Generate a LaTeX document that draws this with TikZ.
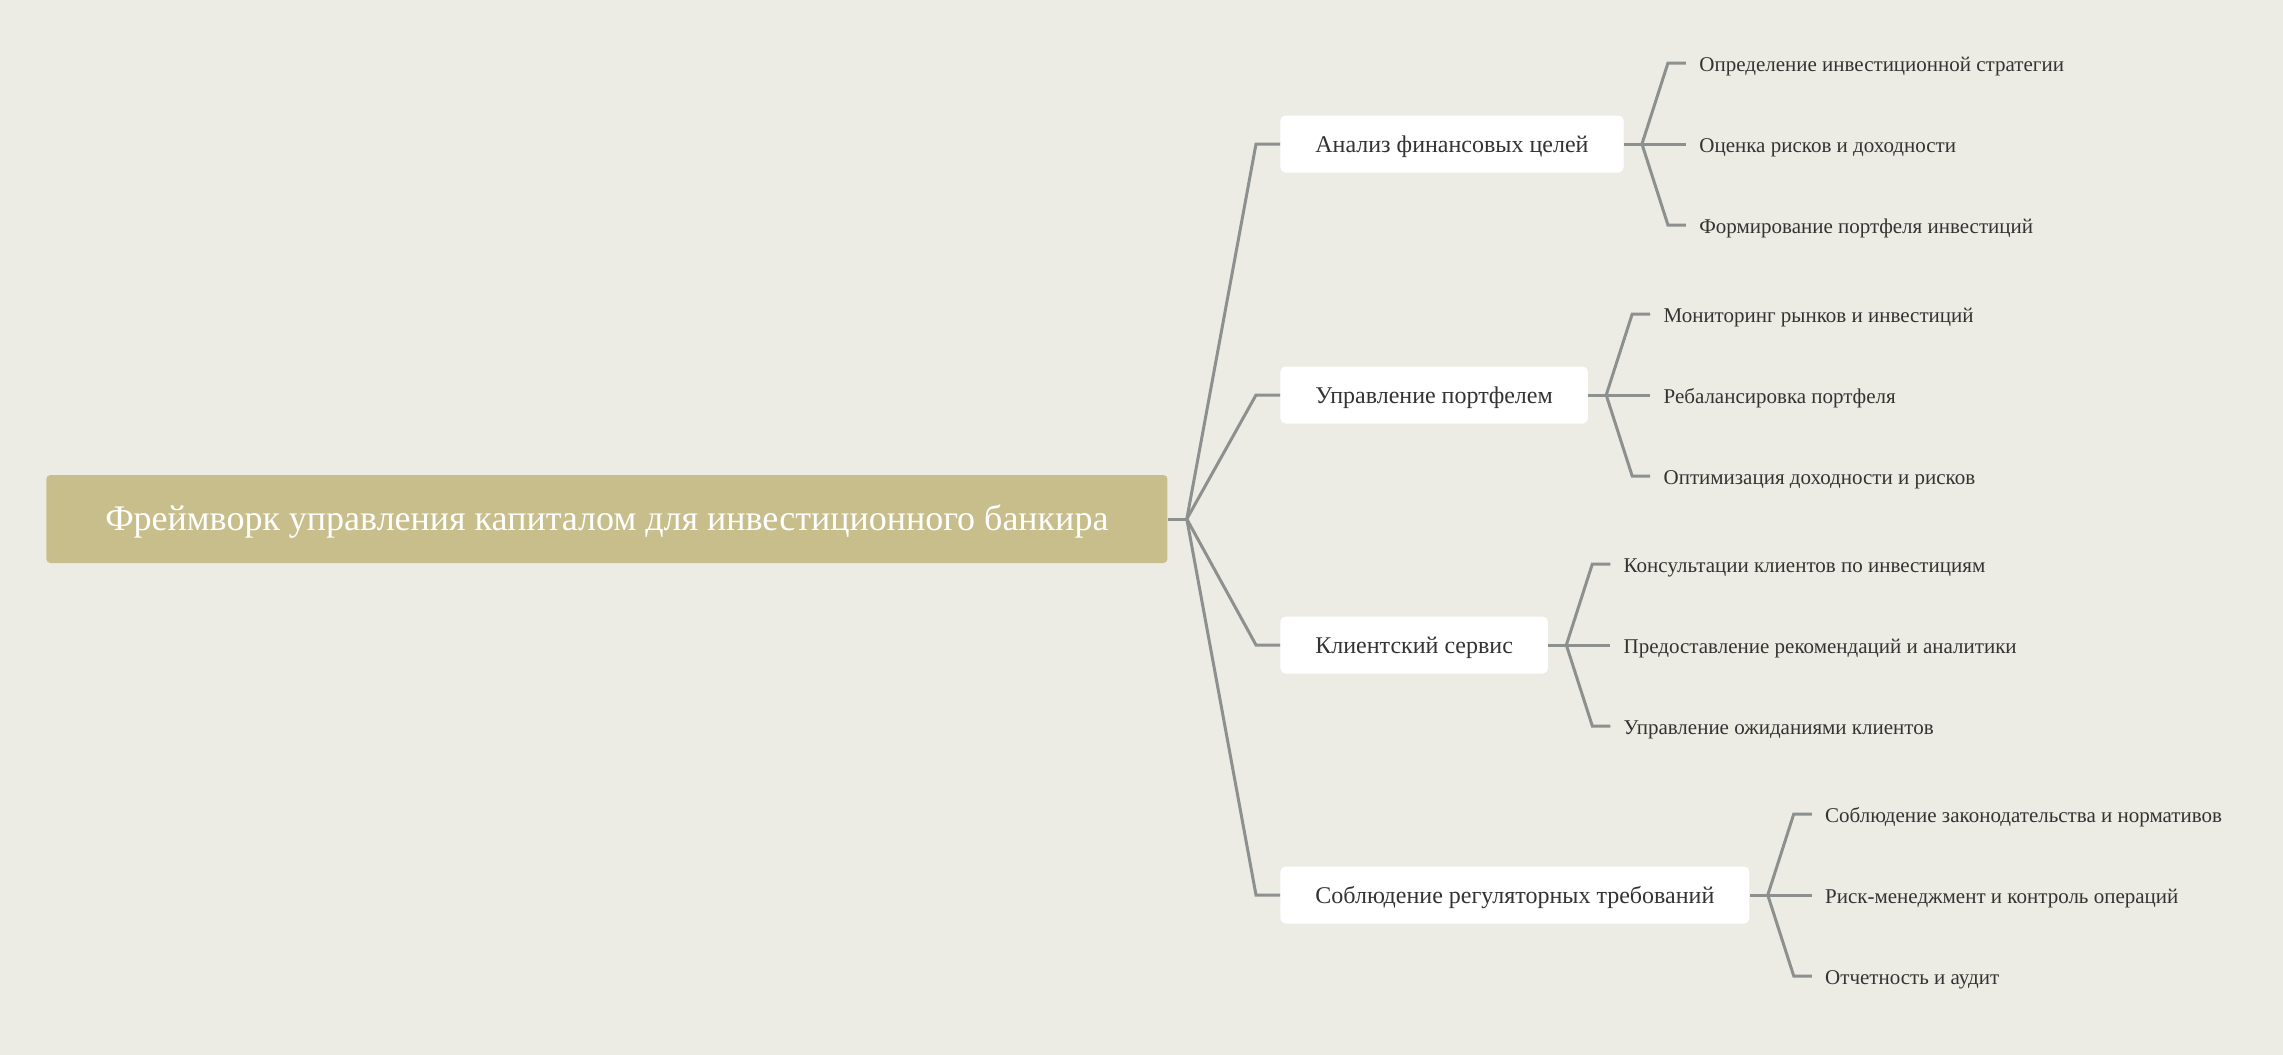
\documentclass[tikz,border=0pt]{standalone}
\usepackage{fontspec}
\setmainfont{Liberation Serif}
\usepackage{xcolor}
\usepackage{tikz}
\usetikzlibrary{positioning,calc}

\definecolor{paper}{HTML}{ECECE4}
\definecolor{khaki}{HTML}{C8BE8C}
\definecolor{linegray}{HTML}{8C908F}
\definecolor{ink}{HTML}{333333}

\tikzset{
  rootbox/.style={fill=khaki, rounded corners=2pt, text=white, font=\fontsize{18}{21}\selectfont, text height=1.2em, text depth=0.1em, minimum width=560.5pt, minimum height=44pt, anchor=west},
  topicbox/.style={fill=white, rounded corners=2.5pt, text=ink, font=\fontsize{12}{14}\selectfont, text height=0.9em, text depth=0.1em, inner xsep=17.5pt, minimum height=28.5pt, anchor=west},
  leaftext/.style={text=ink, font=\fontsize{10.5}{12}\selectfont, text height=0.9em, text depth=0.1em, inner xsep=6.5pt, anchor=west},
  link/.style={draw=linegray, line width=1.5pt},
}

\begin{document}
\begin{tikzpicture}[x=0.5pt, y=-0.5pt]
    % Background
    \fill[paper] (0,0) rectangle (2283,1055);

    % Root
    \node[rootbox] (root) at (46,519) {Фреймворк управления капиталом для инвестиционного банкира};
    \coordinate (hub) at ($(root.east)+(19,0)$);
    \draw[link] (root.east) -- (hub);

    % Main topics
    \node[topicbox] (goals) at (1280,144) {Анализ финансовых целей};
    \node[topicbox] (portfolio) at (1280,395) {Управление портфелем};
    \node[topicbox] (client) at (1280,645) {Клиентский сервис};
    \node[topicbox] (rules) at (1280,895) {Соблюдение регуляторных требований};

    \draw[link] (hub) -- ($(goals.west)+(-24,0)$) -- (goals.west);
    \draw[link] (hub) -- ($(portfolio.west)+(-24,0)$) -- (portfolio.west);
    \draw[link] (hub) -- ($(client.west)+(-24,0)$) -- (client.west);
    \draw[link] (hub) -- ($(rules.west)+(-24,0)$) -- (rules.west);

    % Financial goals
    \node[leaftext] (goals1) at ($(goals.east)+(62,-81)$) {Определение инвестиционной стратегии};
    \node[leaftext] (goals2) at ($(goals.east)+(62,0)$) {Оценка рисков и доходности};
    \node[leaftext] (goals3) at ($(goals.east)+(62,81)$) {Формирование портфеля инвестиций};
    \draw[link] (goals.east) -- ++(18,0) coordinate (goalsHub);
    \draw[link] (goalsHub) -- ($(goals1.west)+(-18,0)$) -- (goals1.west);
    \draw[link] (goalsHub) -- (goals2.west);
    \draw[link] (goalsHub) -- ($(goals3.west)+(-18,0)$) -- (goals3.west);

    % Portfolio
    \node[leaftext] (portfolio1) at ($(portfolio.east)+(62,-81)$) {Мониторинг рынков и инвестиций};
    \node[leaftext] (portfolio2) at ($(portfolio.east)+(62,0)$) {Ребалансировка портфеля};
    \node[leaftext] (portfolio3) at ($(portfolio.east)+(62,81)$) {Оптимизация доходности и рисков};
    \draw[link] (portfolio.east) -- ++(18,0) coordinate (portfolioHub);
    \draw[link] (portfolioHub) -- ($(portfolio1.west)+(-18,0)$) -- (portfolio1.west);
    \draw[link] (portfolioHub) -- (portfolio2.west);
    \draw[link] (portfolioHub) -- ($(portfolio3.west)+(-18,0)$) -- (portfolio3.west);

    % Client service
    \node[leaftext] (client1) at ($(client.east)+(62,-81)$) {Консультации клиентов по инвестициям};
    \node[leaftext] (client2) at ($(client.east)+(62,0)$) {Предоставление рекомендаций и аналитики};
    \node[leaftext] (client3) at ($(client.east)+(62,81)$) {Управление ожиданиями клиентов};
    \draw[link] (client.east) -- ++(18,0) coordinate (clientHub);
    \draw[link] (clientHub) -- ($(client1.west)+(-18,0)$) -- (client1.west);
    \draw[link] (clientHub) -- (client2.west);
    \draw[link] (clientHub) -- ($(client3.west)+(-18,0)$) -- (client3.west);

    % Compliance
    \node[leaftext] (rules1) at ($(rules.east)+(62,-81)$) {Соблюдение законодательства и нормативов};
    \node[leaftext] (rules2) at ($(rules.east)+(62,0)$) {Риск-менеджмент и контроль операций};
    \node[leaftext] (rules3) at ($(rules.east)+(62,81)$) {Отчетность и аудит};
    \draw[link] (rules.east) -- ++(18,0) coordinate (rulesHub);
    \draw[link] (rulesHub) -- ($(rules1.west)+(-18,0)$) -- (rules1.west);
    \draw[link] (rulesHub) -- (rules2.west);
    \draw[link] (rulesHub) -- ($(rules3.west)+(-18,0)$) -- (rules3.west);
\end{tikzpicture}
\end{document}
